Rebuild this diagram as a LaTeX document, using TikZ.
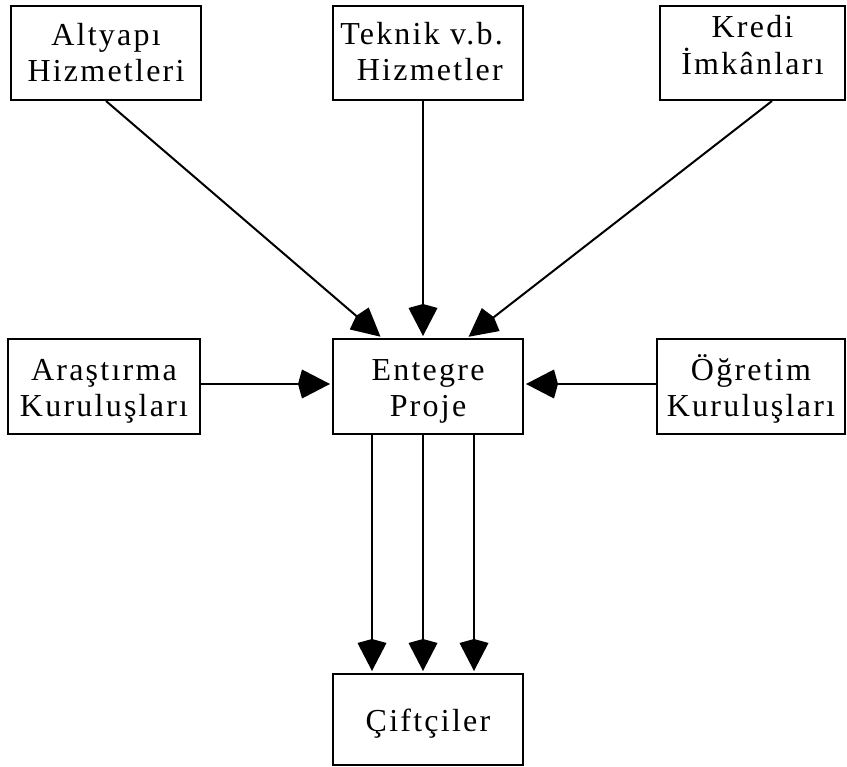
\documentclass[tikz,border=0pt]{standalone}
\usepackage{fontspec}
\setmainfont{Liberation Serif}[LetterSpace=7]
\usetikzlibrary{arrows.meta,calc}
% \twol[align]{height above last baseline}{line 1}{line 2}
\newcommand\twol[4][c]{\raisebox{0pt}[#2][0pt]{\begin{tabular}[b]{@{}#1@{}}#3\\#4\end{tabular}}}
\newcommand\onel[2]{\raisebox{0pt}[#1][0pt]{#2}}
\tikzset{
  box/.style={draw, line width=2pt, inner sep=0pt, minimum width=190pt, minimum height=94pt,
    font=\fontsize{32}{36}\selectfont},
  conn/.style={line width=2pt, shorten >=2pt, -{Kite[length=32pt,width=29pt,inset=4pt]}}
}
\begin{document}
\begin{tikzpicture}[x=1pt,y=-1pt]
\useasboundingbox (0,0) rectangle (847,767);
\node[box] (A) at (106,53) {\twol{58pt}{Altyapı}{Hizmetleri}};
\node[box] (T) at (428,53) {\twol[r]{56pt}{Teknik v.b.}{Hizmetler}\hspace*{13pt}};
\node[box, minimum width=185pt] (K) at (752.5,53) {\twol{44pt}{Kredi}{İmkânları}};
\node[box, minimum width=192pt, minimum height=95pt] (R) at (104,386.5) {\twol{61pt}{Araştırma}{Kuruluşları}};
\node[box, minimum height=95pt] (E) at (428,386.5) {\twol{61pt}{Entegre}{Proje}};
\node[box, minimum width=188pt, minimum height=95pt] (O) at (751,386.5) {\twol{61pt}{Öğretim}{Kuruluşları}};
\node[box, minimum height=91pt] (C) at (428,719.5) {\onel{23pt}{Çiftçiler}};
\draw[conn] (A.south) -- ($(E.north)+(-46,0)$);
\draw[conn] ($(T.south)+(-5,0)$) -- ($(E.north)+(-5,0)$);
\draw[conn] ($(K.south)+(19.5,0)$) -- ($(E.north)+(39,0)$);
\draw[conn] ($(R.east)+(0,-2.5)$) -- ($(E.west)+(0,-2.5)$);
\draw[conn] ($(O.west)+(0,-2.5)$) -- ($(E.east)+(0,-2.5)$);
\foreach \dx in {-56,-5,46}
  \draw[conn] ($(E.south)+(\dx,0)$) -- ($(C.north)+(\dx,0)$);
\end{tikzpicture}
\end{document}
